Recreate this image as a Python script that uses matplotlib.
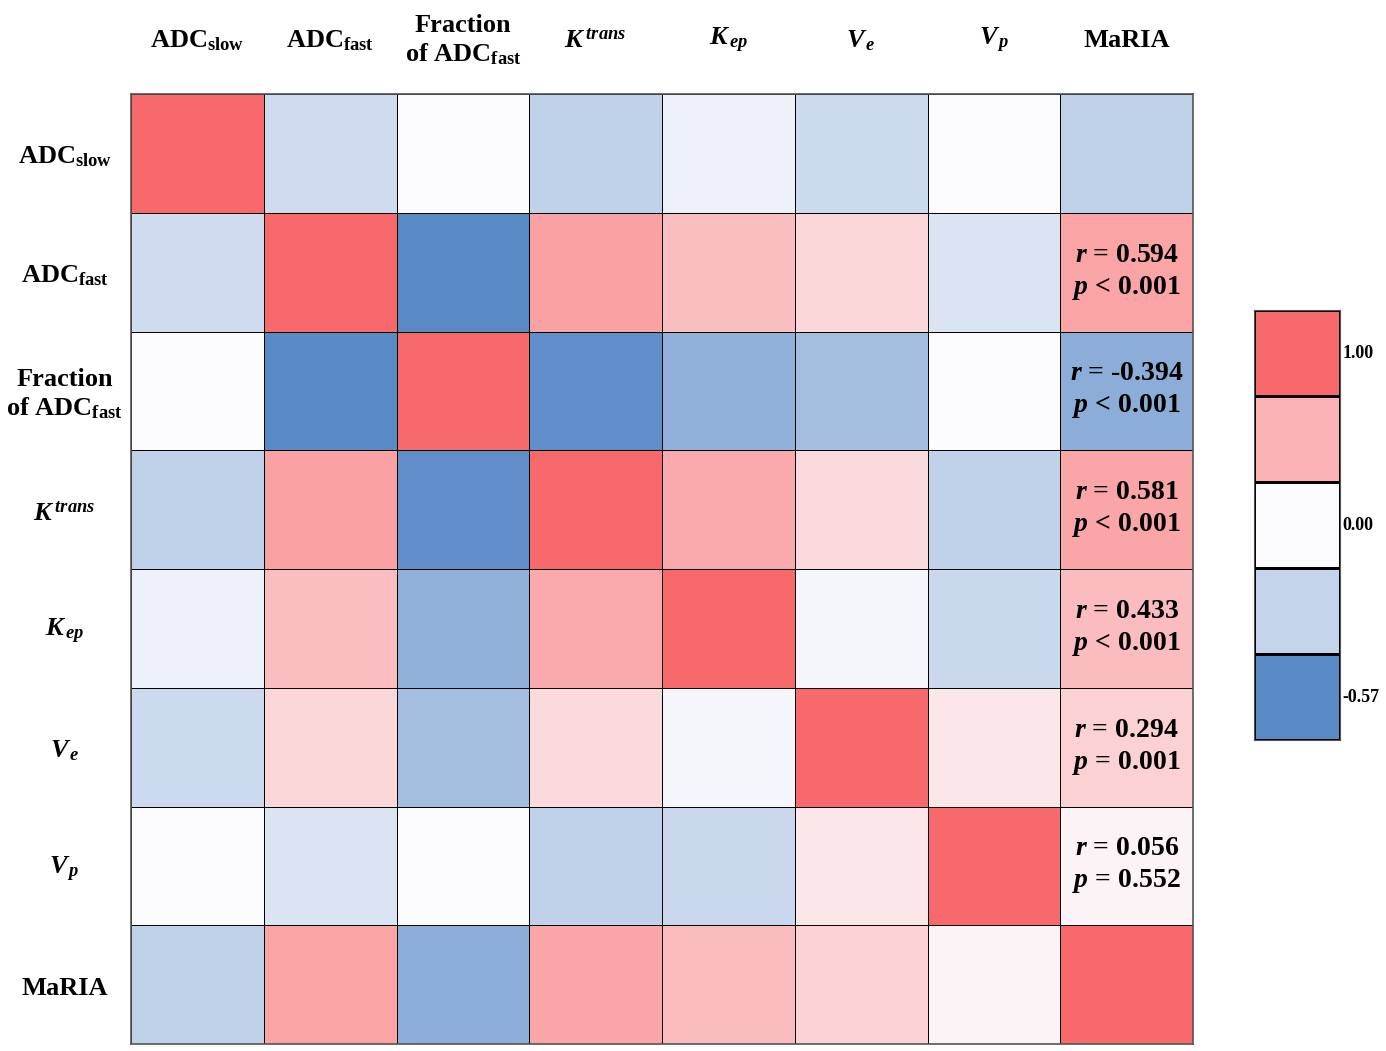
import numpy as np
import matplotlib
matplotlib.use("Agg")
import matplotlib.pyplot as plt
from matplotlib.colors import LinearSegmentedColormap, TwoSlopeNorm

plt.rcParams['font.family'] = 'Liberation Serif'
plt.rcParams['font.weight'] = 'bold'
plt.rcParams['mathtext.fontset'] = 'custom'
plt.rcParams['mathtext.rm'] = 'Liberation Serif:bold'
plt.rcParams['mathtext.bf'] = 'Liberation Serif:bold'
plt.rcParams['mathtext.it'] = 'Liberation Serif:italic:bold'

# подписи параметров
labels = ['ADC$_{\\mathrm{slow}}$', 'ADC$_{\\mathrm{fast}}$', 'Fraction\nof ADC$_{\\mathrm{fast}}$',
          '$K^{\\,trans}$', '$K_{\\,ep}$', '$V_{\\,e}$', '$V_{\\,p}$', 'MaRIA']

# матрица корреляций (оценка по цвету ячеек)
corr = np.array([
    [1.00, -0.16, 0.00, -0.21, -0.05, -0.17, 0.00, -0.21],
    [-0.16, 1.00, -0.57, 0.61, 0.42, 0.25, -0.12, 0.594],
    [0.00, -0.57, 1.00, -0.55, -0.37, -0.31, 0.00, -0.394],
    [-0.21, 0.61, -0.55, 1.00, 0.56, 0.23, -0.21, 0.581],
    [-0.05, 0.42, -0.37, 0.56, 1.00, -0.03, -0.18, 0.433],
    [-0.17, 0.25, -0.31, 0.23, -0.03, 1.00, 0.15, 0.294],
    [0.00, -0.12, 0.00, -0.21, -0.18, 0.15, 1.00, 0.056],
    [-0.21, 0.594, -0.394, 0.581, 0.433, 0.294, 0.056, 1.00],
])

# подписи в столбце MaRIA
r_text = ['', '0.594', '-0.394', '0.581', '0.433', '0.294', '0.056', '']
p_text = ['', '< 0.001', '< 0.001', '< 0.001', '< 0.001', '= 0.001', '= 0.552', '']

cbar_vals = [1.0, 0.5, 0.0, -0.2, -0.57]
cbar_ticks = {0: '1.00', 2: '0.00', 4: '-0.57'}

cmap = LinearSegmentedColormap.from_list('bwr_excel', ['#5A8AC6', '#FCFCFF', '#F8696B'])
norm = TwoSlopeNorm(vmin=-0.57, vcenter=0.0, vmax=1.0)

W, H = 1386, 1051
fig = plt.figure(figsize=(W / 100, H / 100), dpi=100)
ax = fig.add_axes([131 / W, 7 / H, 1062 / W, 950 / H])

n = len(labels)
ax.pcolormesh(np.arange(n + 1) - 0.5, np.arange(n + 1) - 0.5, corr, cmap=cmap, norm=norm,
              edgecolors='black', linewidth=0.7)
ax.set_xlim(-0.5, n - 0.5)
ax.set_ylim(n - 0.5, -0.5)
ax.set_xticks([])
ax.set_yticks([])
for s in ax.spines.values():
    s.set_color('#555555')
    s.set_linewidth(1.2)

for i, lab in enumerate(labels):
    ax.text(i, -0.95, lab, ha='center', va='center', fontsize=19, fontweight='bold',
            linespacing=1.25, clip_on=False)
    ax.text(-1.0, i + 0.03, lab, ha='center', va='center', fontsize=19, fontweight='bold',
            linespacing=1.25, clip_on=False)

col = n - 1
for i in range(n):
    if r_text[i]:
        ax.text(col, i, '$r$ = ' + r_text[i] + '\n$p$ ' + p_text[i], ha='center', va='center',
                fontsize=20, fontweight='bold', linespacing=1.3)

# дискретная шкала цветов
cax = fig.add_axes([1254 / W, 311 / H, 86 / W, 430 / H])
cax.pcolormesh([0, 1], np.arange(len(cbar_vals) + 1), np.array(cbar_vals).reshape(-1, 1),
               cmap=cmap, norm=norm, edgecolors='black', linewidth=0.8)
cax.set_xlim(0, 1)
cax.set_ylim(len(cbar_vals), 0)
cax.set_xticks([])
cax.set_yticks([])
for s in cax.spines.values():
    s.set_color('#555555')
for k, t in cbar_ticks.items():
    cax.text(1.03, k + 0.5, t, transform=cax.get_yaxis_transform(), ha='left', va='center',
             fontsize=13, fontweight='bold')

fig.savefig('out.png', dpi=100)
